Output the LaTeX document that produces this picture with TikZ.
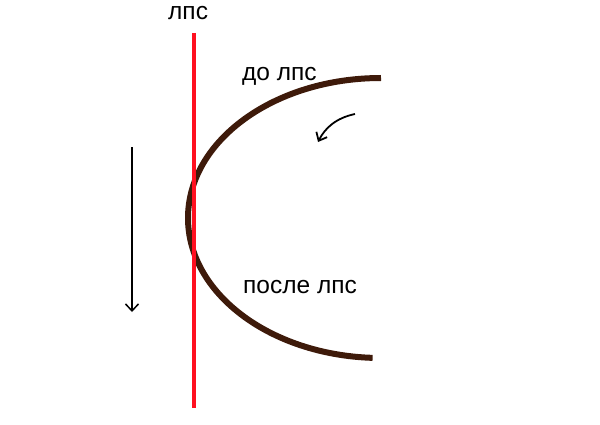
\documentclass[tikz,border=0pt]{standalone}
\usepackage{fontspec}
\setmainfont{Liberation Sans}
\usetikzlibrary{arrows.meta}

\definecolor{arcbrown}{RGB}{62,26,10}
\definecolor{lpsred}{RGB}{255,16,32}

\tikzset{
  lbl/.style={anchor=base west, inner sep=0pt, font=\fontsize{24.5}{28}\selectfont},
  blackarrow/.style={line width=1.5pt, -{Straight Barb[length=7pt,width=13pt]}}
}

\begin{document}
\begin{tikzpicture}[x=1pt, y=1pt]
    \useasboundingbox (0,0) rectangle (600,424);

    % labels
    \node[lbl] (lps) at (168,404) {лпс};
    \node[lbl] (before) at (242,343) {до лпс};
    \node[lbl] (after) at (243,131) {после лпс};

    % the arc
    \draw[line width=6pt, arcbrown] (381,346) arc[start angle=90, end angle=267.5, x radius=193, y radius=140];

    % the line
    \coordinate (lpstop) at (194,391);
    \coordinate (lpsbot) at (194,16);
    \draw[line width=4pt, lpsred] (lpstop)--(lpsbot);

    % arrows
    \coordinate (downstart) at (132,277);
    \coordinate (downend) at (132,112);
    \draw[blackarrow] (downstart)--(downend);

    \coordinate (turnstart) at (355,310);
    \coordinate (turnend) at (318,282);
    \draw[blackarrow, line width=1.8pt, -{Straight Barb[length=7pt,width=12pt]}] (turnstart) .. controls (336,306) and (325,296) .. (turnend);
\end{tikzpicture}
\end{document}
